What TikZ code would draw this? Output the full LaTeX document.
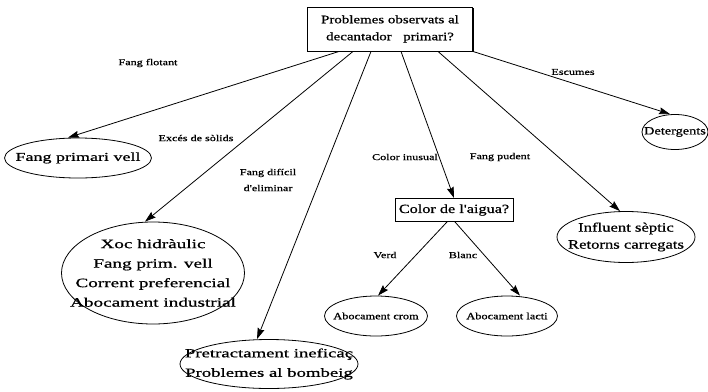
\documentclass[tikz,border=0pt]{standalone}
\usepackage{fontspec}
\setmainfont{Liberation Serif}
\newfontfamily\nodefont[FakeStretch=1.3,FakeBold=0.8]{Liberation Serif}
\newfontfamily\widefont[FakeStretch=1.5,FakeBold=0.8]{Liberation Serif}
\newfontfamily\lblfont[FakeStretch=1.35,FakeBold=0.8]{Liberation Serif}
\usetikzlibrary{arrows.meta,shapes.geometric,shadows}

% a line of text that takes no width, so the ellipse keeps its own size
\newcommand{\zw}[1]{\makebox[0pt]{#1}}

\tikzset{
  qbox/.style={draw, rectangle, line width=0.9pt, inner sep=0pt, align=center},
  leaf/.style={draw, ellipse, line width=0.8pt, inner sep=0pt, align=center},
  lbl/.style={font=\lblfont\fontsize{9}{16}\selectfont, align=center, inner sep=0pt},
  link/.style={line width=0.8pt, -{Stealth[length=11pt,width=7pt,inset=1.5pt]}}
}

\begin{document}
\begin{tikzpicture}[x=1pt, y=-1pt]
\useasboundingbox (0,0) rectangle (708,391);

% question boxes
\node[qbox, minimum width=165pt, minimum height=44pt,
      drop shadow={shadow xshift=1.3pt, shadow yshift=-1.3pt, opacity=1, fill=black},
      fill=white, font=\nodefont\fontsize{11.5}{17}\selectfont]
      (root) at (390,29) {Problemes observats al\\decantador\quad primari?};
\node[qbox, minimum width=118pt, minimum height=23pt,
      font=\nodefont\fontsize{12.5}{15}\selectfont]
      (color) at (454,210) {Color de l'aigua?};

% answers
\node[leaf, minimum width=147pt, minimum height=40pt,
      font=\widefont\fontsize{12}{15}\selectfont]
      (fpv) at (78,158) {\zw{Fang primari vell}};
\node[leaf, minimum width=183pt, minimum height=102pt,
      font=\widefont\fontsize{12.8}{19.5}\selectfont] (xoc) at (153,273)
  {\zw{Xoc hidràulic}\\\zw{Fang prim. vell}\\\zw{Corrent preferencial}\\\zw{Abocament industrial}};
\node[leaf, minimum width=178pt, minimum height=49pt,
      font=\widefont\fontsize{12.5}{19.5}\selectfont] (pre) at (269,364)
  {\zw{Pretractament ineficaç}\\\zw{Problemes al bombeig}};
\node[leaf, minimum width=103pt, minimum height=40pt,
      font=\nodefont\fontsize{9.5}{12}\selectfont]
      (crom) at (376,316) {\zw{Abocament crom}};
\node[leaf, minimum width=101pt, minimum height=40pt,
      font=\nodefont\fontsize{9.5}{12}\selectfont]
      (lacti) at (507,316) {\zw{Abocament lacti}};
\node[leaf, minimum width=138pt, minimum height=51pt,
      font=\nodefont\fontsize{12.8}{17}\selectfont] (inf) at (626,237)
  {\zw{Influent sèptic}\\\zw{Retorns carregats}};
\node[leaf, minimum width=66pt, minimum height=35pt,
      font=\nodefont\fontsize{11}{13}\selectfont]
      (det) at (675,132) {\zw{Detergents}};

% connectors
\draw[link] ([xshift=-51pt]root.south) -- ([xshift=-10pt]fpv.north);
\draw[link] ([xshift=-37pt]root.south) -- ([xshift=-8pt]xoc.north);
\draw[link] ([xshift=-19pt]root.south) -- ([xshift=-12pt]pre.north);
\draw[link] ([xshift=11pt]root.south) -- (color.north);
\draw[link] ([xshift=48pt]root.south) -- ([xshift=-6pt]inf.north);
\draw[link] (root.south east) -- ([xshift=-5pt]det.north);
\draw[link] ([xshift=-7pt]color.south) -- ([xshift=2pt]crom.north);
\draw[link] ([xshift=1pt]color.south) -- ([xshift=13pt]lacti.north);

% connector labels
\node[lbl] (l1) at (148,63) {Fang flotant};
\node[lbl] (l2) at (196,138) {Excés de sòlids};
\node[lbl] (l3) at (268,180) {Fang difícil\\d'eliminar};
\node[lbl] (l4) at (405,157) {Color inusual};
\node[lbl] (l5) at (500,157) {Fang pudent};
\node[lbl] (l6) at (573,72) {Escumes};
\node[lbl] (l7) at (385,255) {Verd};
\node[lbl] (l8) at (463,255) {Blanc};
\end{tikzpicture}
\end{document}
